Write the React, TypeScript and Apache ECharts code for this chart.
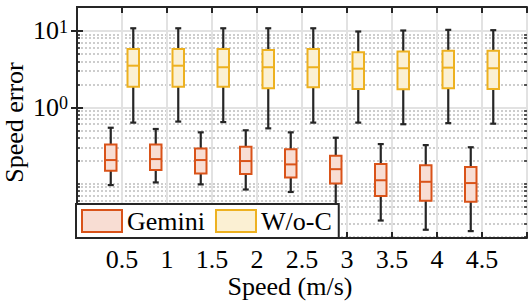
import React, { useEffect, useRef } from 'react';
import * as echarts from 'echarts';

const FONT = 'Times New Roman, Liberation Serif, DejaVu Serif, serif';

// Speed categories (m/s)
const speeds = [0.5, 1, 1.5, 2, 2.5, 3, 3.5, 4, 4.5];
// Box statistics: [min, Q1, median, Q3, max]
const geminiBoxes = [
  [0.096, 0.148, 0.204, 0.327, 0.54],
  [0.104, 0.151, 0.21, 0.327, 0.52],
  [0.098, 0.136, 0.204, 0.29, 0.47],
  [0.084, 0.134, 0.198, 0.305, 0.5],
  [0.078, 0.121, 0.179, 0.282, 0.47],
  [0.041, 0.101, 0.155, 0.232, 0.4],
  [0.033, 0.069, 0.111, 0.181, 0.33],
  [0.025, 0.06, 0.106, 0.174, 0.32],
  [0.024, 0.058, 0.102, 0.165, 0.3],
];
const wocBoxes = [
  [0.63, 1.86, 3.5, 5.8, 10.8],
  [0.65, 1.86, 3.5, 5.8, 10.8],
  [0.64, 1.86, 3.34, 5.8, 10.8],
  [0.53, 1.77, 3.34, 5.6, 10.8],
  [0.63, 1.83, 3.34, 5.8, 10.8],
  [0.63, 1.74, 3.2, 5.26, 9.8],
  [0.6, 1.72, 3.24, 5.35, 10.1],
  [0.62, 1.77, 3.3, 5.47, 10.3],
  [0.61, 1.74, 3.24, 5.47, 10.2],
];
const seriesNames = ['Gemini', 'W/o-C'];
const yMajorTicks = [1, 10];
const yMinorTicks = [
  0.02, 0.03, 0.04, 0.05, 0.06, 0.07, 0.08, 0.09, 0.1,
  0.2, 0.3, 0.4, 0.5, 0.6, 0.7, 0.8, 0.9,
  2, 3, 4, 5, 6, 7, 8, 9,
];
const yMin = 0.0195;
const yMax = 20.5;

const AX = '#262626';

const makeRender = (offset: number, edge: string, fill: string) => (params: any, api: any) => {
  const x = api.value(0);
  const pMin = api.coord([x, api.value(1)]);
  const pQ1 = api.coord([x, api.value(2)]);
  const pMed = api.coord([x, api.value(3)]);
  const pQ3 = api.coord([x, api.value(4)]);
  const pMax = api.coord([x, api.value(5)]);
  const cx = pMin[0] + offset;
  const hw = 5.75;
  const cap = 3;
  const wStyle = { stroke: AX, lineWidth: 2.2 };
  return {
    type: 'group',
    children: [
      { type: 'line', shape: { x1: cx, y1: pMin[1], x2: cx, y2: pQ1[1] }, style: wStyle },
      { type: 'line', shape: { x1: cx, y1: pQ3[1], x2: cx, y2: pMax[1] }, style: wStyle },
      { type: 'line', shape: { x1: cx - cap, y1: pMin[1], x2: cx + cap, y2: pMin[1] }, style: wStyle },
      { type: 'line', shape: { x1: cx - cap, y1: pMax[1], x2: cx + cap, y2: pMax[1] }, style: wStyle },
      {
        type: 'rect',
        shape: { x: cx - hw, y: pQ3[1], width: hw * 2, height: pQ1[1] - pQ3[1] },
        style: { fill, stroke: edge, lineWidth: 2 },
      },
      { type: 'line', shape: { x1: cx - hw, y1: pMed[1], x2: cx + hw, y2: pMed[1] }, style: { stroke: edge, lineWidth: 2 } },
    ],
  };
};

const logAxisBase = {
  type: 'log',
  logBase: 10,
  min: yMin,
  max: yMax,
  gridIndex: 0,
};

export default function App() {
  const ref = useRef<HTMLDivElement>(null);
  useEffect(() => {
    document.body.style.margin = '0';
    if (!ref.current) return;
    const chart = echarts.init(ref.current, null, { renderer: 'svg' });
    const option: any = {
      animation: false,
      backgroundColor: '#fff',
      textStyle: { fontFamily: FONT },
      grid: { left: 77, right: 4, top: 7, bottom: 66, containLabel: false, outerBoundsMode: 'none' },
      xAxis: [
        {
          type: 'value',
          min: 0,
          max: 5,
          interval: 0.5,
          position: 'bottom',
          axisLine: { show: true, lineStyle: { color: AX, width: 2 } },
          axisTick: { show: true, inside: true, length: 6, lineStyle: { color: AX, width: 2 } },
          axisLabel: {
            formatter: (v: number) => (v > 0 && v < 5 ? String(v) : ''),
            fontSize: 26,
            fontFamily: FONT,
            color: '#000',
            margin: 8,
          },
          splitLine: { show: true, lineStyle: { color: '#e2e2e2', width: 2 } },
          name: 'Speed (m/s)',
          nameLocation: 'middle',
          nameGap: 35,
          nameMoveOverlap: false,
          nameTextStyle: { fontSize: 26, fontFamily: FONT, color: '#000', padding: [0, 24, 0, 0] },
        },
        {
          type: 'value',
          min: 0,
          max: 5,
          interval: 0.5,
          position: 'top',
          axisLine: { show: true, lineStyle: { color: AX, width: 2 } },
          axisTick: { show: true, inside: true, length: 6, lineStyle: { color: AX, width: 2 } },
          axisLabel: { show: false },
          splitLine: { show: false },
        },
      ],
      yAxis: [
        {
          ...logAxisBase,
          position: 'left',
          axisLine: { show: true, lineStyle: { color: AX, width: 2 } },
          axisTick: { show: true, inside: true, length: 6, customValues: yMajorTicks, lineStyle: { color: AX, width: 2 } },
          axisLabel: {
            customValues: yMajorTicks,
            margin: 9,
            formatter: (v: number) => `{b|10}{s|${Math.round(Math.log10(v))}}`,
            rich: {
              b: { fontSize: 26, lineHeight: 26, fontFamily: FONT, color: '#000', verticalAlign: 'bottom' },
              s: { fontSize: 18, lineHeight: 18, fontFamily: FONT, color: '#000', verticalAlign: 'top', padding: [0, 0, 13, 0] },
            },
          },
          splitLine: { show: true, lineStyle: { color: '#e2e2e2', width: 2 } },
          name: 'Speed error',
          nameLocation: 'middle',
          nameGap: 50,
          nameMoveOverlap: false,
          nameTextStyle: { fontSize: 26, fontFamily: FONT, color: '#000' },
        },
        {
          ...logAxisBase,
          position: 'right',
          axisLine: { show: true, lineStyle: { color: AX, width: 2 } },
          axisTick: { show: true, inside: true, length: 6, customValues: yMajorTicks, lineStyle: { color: AX, width: 2 } },
          axisLabel: { show: false },
          splitLine: { show: false },
        },
        {
          ...logAxisBase,
          position: 'left',
          axisLine: { show: false },
          axisTick: { show: true, inside: true, length: 3, customValues: yMinorTicks, lineStyle: { color: AX, width: 1.5 } },
          axisLabel: { show: false },
          splitLine: { show: true, lineStyle: { color: '#bdbdbd', width: 1.5, type: [2, 2] } },
        },
        {
          ...logAxisBase,
          position: 'right',
          axisLine: { show: false },
          axisTick: { show: true, inside: true, length: 3, customValues: yMinorTicks, lineStyle: { color: AX, width: 1.5 } },
          axisLabel: { show: false },
          splitLine: { show: false },
        },
      ],
      legend: {
        left: 76,
        top: 204,
        orient: 'horizontal',
        padding: [4, 7, 4, 5],
        itemWidth: 40,
        itemHeight: 22,
        itemGap: 10,
        borderColor: AX,
        borderWidth: 2,
        backgroundColor: '#fff',
        textStyle: { fontSize: 26, fontFamily: FONT, color: '#000' },
        data: [
          { name: seriesNames[0], icon: 'rect', itemStyle: { color: '#F8DDD3', borderColor: '#D95319', borderWidth: 2 } },
          { name: seriesNames[1], icon: 'rect', itemStyle: { color: '#FBF0D3', borderColor: '#EDB120', borderWidth: 2 } },
        ],
      },
      series: [
        {
          name: seriesNames[0],
          type: 'custom',
          xAxisIndex: 0,
          yAxisIndex: 0,
          renderItem: makeRender(-11.25, '#D95319', '#F8DDD3'),
          encode: { x: 0, y: [1, 2, 3, 4, 5] },
          itemStyle: { color: '#F8DDD3', borderColor: '#D95319' },
          data: speeds.map((s, i) => [s, ...geminiBoxes[i]]),
          z: 3,
        },
        {
          name: seriesNames[1],
          type: 'custom',
          xAxisIndex: 0,
          yAxisIndex: 0,
          renderItem: makeRender(11.25, '#EDB120', '#FBF0D3'),
          encode: { x: 0, y: [1, 2, 3, 4, 5] },
          itemStyle: { color: '#FBF0D3', borderColor: '#EDB120' },
          data: speeds.map((s, i) => [s, ...wocBoxes[i]]),
          z: 3,
        },
      ],
    };
    chart.setOption(option);
    return () => chart.dispose();
  }, []);
  return <div ref={ref} style={{ width: 531, height: 304 }} />;
}
